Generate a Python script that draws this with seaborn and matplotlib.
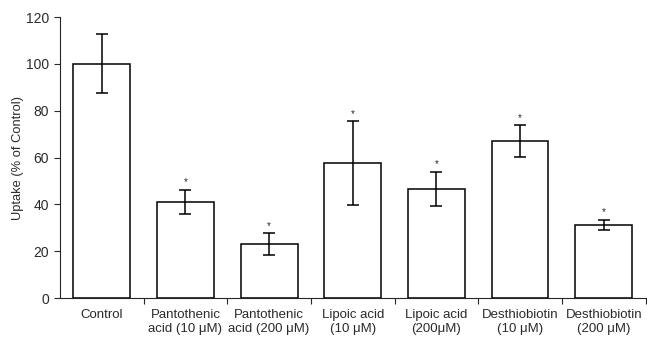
import matplotlib
matplotlib.use("Agg")
import matplotlib.pyplot as plt
import seaborn as sns
import pandas as pd
import numpy as np

categories = ["Control", "Pantothenic\nacid (10 \u03bcM)", "Pantothenic\nacid (200 \u03bcM)",
              "Lipoic acid\n(10 \u03bcM)", "Lipoic acid\n(200\u03bcM)",
              "Desthiobiotin\n(10 \u03bcM)", "Desthiobiotin\n(200 \u03bcM)"]
uptake = [100, 41, 23, 57.6, 46.6, 67, 31.2]
errors = [12.6, 5.2, 4.6, 18.0, 7.3, 6.8, 2.2]
significant = [False, True, True, True, True, True, True]
yticks = [0, 20, 40, 60, 80, 100, 120]

sns.set_style("ticks")
plt.rcParams['font.family'] = ['Liberation Sans', 'DejaVu Sans']

df = pd.DataFrame({"cat": categories, "uptake": uptake})
txtc = "#2a2a2a"

fig = plt.figure(figsize=(6.47, 3.41), dpi=100)
ax = fig.add_axes([0.0927, 0.126, 0.905, 0.824])
sns.barplot(data=df, x="cat", y="uptake", ax=ax, color="white",
            edgecolor="black", linewidth=1.1, width=0.68, errorbar=None)
for p in ax.patches:
    p.set_facecolor("white")

xs = np.arange(len(categories))
ax.errorbar(xs, uptake, yerr=errors, fmt="none", ecolor="black",
            elinewidth=1.1, capsize=4, capthick=1.1)
for x, v, e, s in zip(xs, uptake, errors, significant):
    if s:
        ax.text(x, v + e + 1.0, "*", ha="center", va="bottom", fontsize=7, color=txtc)

ax.set_ylim(0, 120)
ax.set_xlim(-0.5, len(categories) - 0.5)
ax.set_yticks(yticks)
ax.set_ylabel("Uptake (% of Control)", fontsize=9.3, color=txtc, labelpad=1)
ax.set_xlabel("")
ax.tick_params(axis="y", labelsize=10, colors=txtc, length=4, width=0.8, pad=4)
ax.tick_params(axis="x", which="major", labelsize=9.5, colors=txtc, length=0, pad=8)
ax.set_xticks(xs + 0.5, minor=True)
ax.tick_params(axis="x", which="minor", length=4, width=0.8)
ax.spines["top"].set_visible(False)
ax.spines["right"].set_visible(False)
ax.spines["left"].set_linewidth(0.8)
ax.spines["bottom"].set_linewidth(0.8)

fig.savefig("out.png", dpi=100)
